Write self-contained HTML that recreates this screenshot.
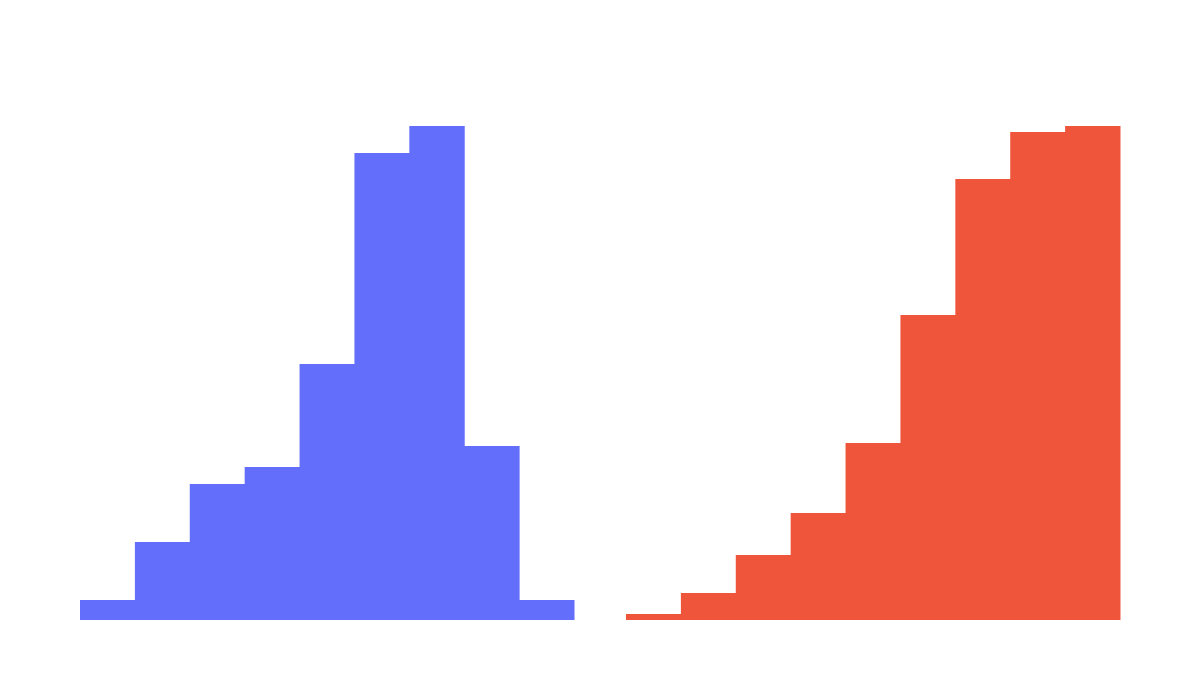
<!DOCTYPE html>
<html><head><meta charset="utf-8"><style>
html,body{margin:0;padding:0;background:#fff;width:1200px;height:700px;overflow:hidden;font-family:"Liberation Sans",sans-serif}
</style></head><body>
<svg id="chart" width="1200" height="700" xmlns="http://www.w3.org/2000/svg"></svg>
<script>
const leftValues = [20, 78, 136, 153, 256, 467, 494, 174, 20];
const rightValues = [6, 27, 65, 107, 177, 305, 441, 488, 494];
const maxValue = 494;

const svg = document.getElementById('chart');
const NS = 'http://www.w3.org/2000/svg';
const baseY = 620, topY = 126;
function yScale(v){ return baseY - (v / maxValue) * (baseY - topY); }
function drawPanel(values, x0, x1, color, name){
  const g = document.createElementNS(NS, 'g');
  
  
  svg.appendChild(g);
  const w = (x1 - x0) / values.length;
  values.forEach((v, i) => {
    const r = document.createElementNS(NS, 'rect');
    const y = yScale(v);
    r.setAttribute('x', x0 + i * w);
    r.setAttribute('y', y);
    r.setAttribute('width', w + 0.5);
    r.setAttribute('height', baseY - y);
    r.setAttribute('fill', color);
    
    
    g.appendChild(r);
  });
}
drawPanel(leftValues, 80, 574, '#636efa', 'left-histogram');
drawPanel(rightValues, 626, 1120, '#ef553b', 'right-histogram');
</script>
</body></html>
